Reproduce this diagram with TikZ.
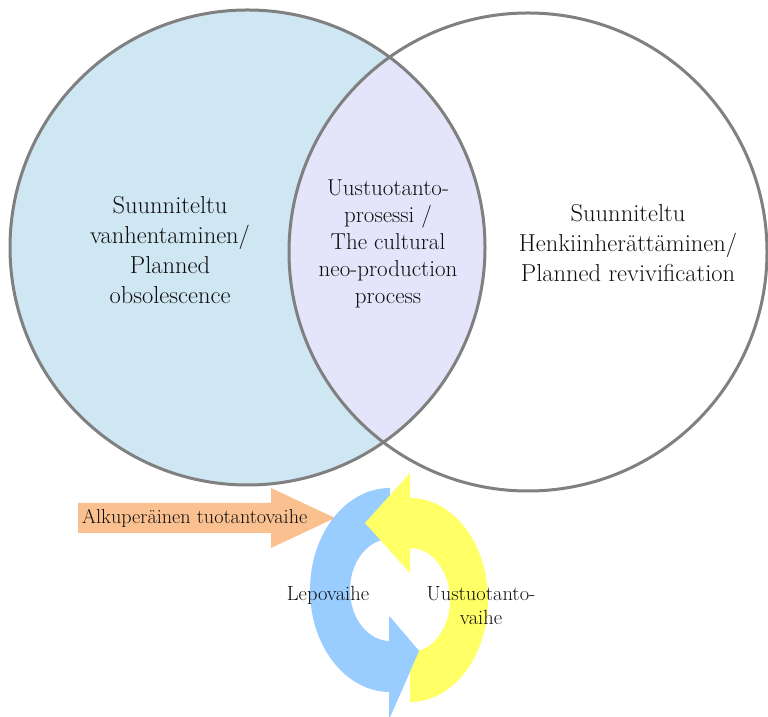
\documentclass[tikz,border=0pt]{standalone}
\definecolor{leftfill}{RGB}{207,230,243}
\definecolor{lensfill}{RGB}{228,228,250}
\definecolor{ringline}{RGB}{128,128,128}
\definecolor{bluearrow}{RGB}{153,204,255}
\definecolor{yellowarrow}{RGB}{255,255,102}
\definecolor{orangearrow}{RGB}{250,192,144}
\definecolor{txt}{RGB}{15,15,15}
\tikzset{
  venn/.style={draw=ringline, line width=3pt},
  bigtext/.style={text=txt, align=center, font=\fontsize{24.5}{30}\selectfont, inner sep=0pt},
  lenstext/.style={text=txt, align=center, font=\fontsize{23}{27}\selectfont, inner sep=0pt},
  smalltext/.style={text=txt, align=center, font=\fontsize{20.5}{24}\selectfont, inner sep=0pt},
}
\begin{document}
\begin{tikzpicture}[x=1pt,y=1pt]
\useasboundingbox (0,0) rectangle (768,717);
% Venn fills
\fill[leftfill] (247.5,469.5) circle[radius=237.5];
\begin{scope}
  \clip (247.5,469.5) circle[radius=237.5];
  \fill[lensfill] (528,465) circle[radius=239];
\end{scope}
\draw[venn] (247.5,469.5) circle[radius=237.5];
\draw[venn] (528,465) circle[radius=239];
% texts in circles
\node[bigtext] (lefttext) at (170,467) {Suunniteltu\\vanhentaminen/\\Planned\\obsolescence};
\node[lenstext] (lenstext) at (388,473) {Uustuotanto-\\prosessi /\\The cultural\\neo-production\\process};
\node[bigtext] (righttext) at (628,474) {Suunniteltu\\Henkiinherättäminen/\\Planned revivification};
% orange arrow
\fill[orangearrow] (78,214) -- (271,214) -- (271,229) -- (335,199) -- (271,169) -- (271,184) -- (78,184) -- cycle;
\node[smalltext, anchor=west, font=\fontsize{20.2}{24}\selectfont] (origtext) at (82,199) {Alkuperäinen tuotantovaihe};
% blue circular arrow
\fill[bluearrow] (390,229) arc[start angle=90,end angle=270,x radius=80,y radius=102]
  -- (390,0) -- (419,66) -- (390,100) -- (390,76)
  arc[start angle=270,end angle=90,x radius=40,y radius=51] -- cycle;
% yellow circular arrow
\fill[yellowarrow] (410,15) arc[start angle=-90,end angle=90,x radius=78,y radius=102]
  -- (410,244) -- (365,194) -- (410,144) -- (410,169)
  arc[start angle=90,end angle=-90,x radius=40,y radius=52] -- cycle;
% blue head on top
\fill[bluearrow] (390,0) -- (419,66) -- (390,100) -- (389,100) -- (389,0) -- cycle;
% cycle labels
\node[smalltext] (lepo) at (328,122) {Lepovaihe};
\node[smalltext] (uusvaihe) at (481,111) {Uustuotanto-\\vaihe};
\end{tikzpicture}
\end{document}
